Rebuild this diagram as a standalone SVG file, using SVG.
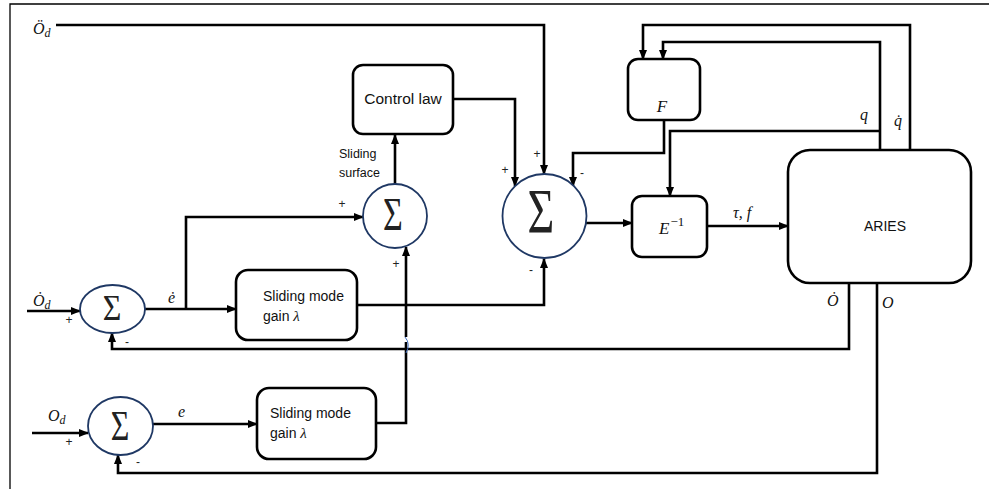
<svg xmlns="http://www.w3.org/2000/svg" width="989" height="489" viewBox="0 0 989 489">
<defs>
<marker id="ah" markerUnits="userSpaceOnUse" markerWidth="10" markerHeight="10" viewBox="0 0 10 10" refX="9" refY="5" orient="auto">
<path d="M0,1 L10,5 L0,9 Z" fill="#000"/>
</marker>
</defs>
<style>
.frame{fill:none;stroke:#000;stroke-width:1.3}
.box{fill:#fff;stroke:#000;stroke-width:2.6}
.sum{fill:#fff;stroke:#1f3864;stroke-width:1.8}
.wire{fill:none;stroke:#000;stroke-width:2.6;stroke-linejoin:miter}
.arr{marker-end:url(#ah)}
.sig{font-family:"Liberation Serif","DejaVu Serif",serif;fill:#222;text-anchor:middle}
.lbl{font-family:"Liberation Sans",Arial,sans-serif;font-size:14px;fill:#111}
.small{font-family:"Liberation Sans",Arial,sans-serif;font-size:12.5px;fill:#111}
.math{font-family:"Liberation Serif","DejaVu Serif",serif;font-style:italic;font-size:16px;fill:#111}
.sign{font-family:"Liberation Sans",Arial,sans-serif;font-size:12px;fill:#222;text-anchor:middle;dominant-baseline:central}
</style>
<rect width="989" height="489" fill="#fff"/>
<path class="frame" d="M10,489 V4 H989"/>

<g id="connectors">
<path class="wire arr" d="M56,25 H544 V174"/>
<path class="wire arr" d="M453,99 H515 V186"/>
<path class="wire arr" d="M664,120 V153 H573 V186"/>
<path class="wire arr" d="M357,305 H544 V259"/>
<path class="wire arr" d="M586,223 H632"/>
<path class="wire arr" d="M707,226 H788"/>
<path class="wire arr" d="M910,150 V25 H643 V59"/>
<path class="wire arr" d="M880,150 V42 H663 V59"/>
<path class="wire arr" d="M880,131 H670 V196"/>
<path class="wire arr" d="M849,283 V349 H112 V333"/>
<path class="wire arr" d="M877,283 V473 H118 V455"/>
<path class="wire arr" d="M27,311 H80"/>
<path class="wire arr" d="M145,309 H236"/>
<path class="wire arr" d="M186,309 V217 H363"/>
<path class="wire arr" d="M395,184 V135"/>
<path class="wire arr" d="M32,433 H88"/>
<path class="wire arr" d="M153,424 H257"/>
<path class="wire" d="M376,423 H406 V342"/>
<path class="wire arr" d="M406,337 V247"/>
<path d="M405,337 Q411,344 406,353" fill="none" stroke="#4472c4" stroke-width="1"/>
</g>

<g id="control-law">
<rect class="box" x="353" y="65" width="100" height="69" rx="10"/>
<text class="lbl" x="403" y="104" text-anchor="middle" style="font-size:15.5px">Control law</text>
</g>

<g id="sum1">
<circle class="sum" cx="395" cy="216" r="32"/>
<text class="sig" font-size="34" transform="translate(393,230) scale(1,1.35)">Σ</text>
</g>

<g id="sum2">
<circle class="sum" cx="544.5" cy="216" r="42"/>
<text class="sig" font-size="46" transform="translate(541,233) scale(1,1.4)">Σ</text>
</g>

<g id="sum3">
<ellipse class="sum" cx="112.5" cy="309" rx="32.5" ry="24"/>
<text class="sig" font-size="32" transform="translate(112,320) scale(1,1.1)">Σ</text>
</g>

<g id="sum4">
<ellipse class="sum" cx="120.5" cy="426" rx="32.5" ry="29"/>
<text class="sig" font-size="32" transform="translate(120,440) scale(1,1.3)">Σ</text>
</g>

<g id="gain1">
<rect class="box" x="236" y="270" width="121" height="70" rx="12"/>
<text class="lbl" x="263" y="301">Sliding mode</text>
<text class="lbl" x="263" y="321">gain <tspan class="math" style="font-size:15px">λ</tspan></text>
</g>

<g id="gain2">
<rect class="box" x="257" y="388" width="119" height="71" rx="12"/>
<text class="lbl" x="270" y="418">Sliding mode</text>
<text class="lbl" x="270" y="438">gain <tspan class="math" style="font-size:15px">λ</tspan></text>
</g>

<g id="F">
<rect class="box" x="628" y="59" width="72" height="61" rx="10"/>
<text class="math" x="662" y="112" text-anchor="middle" style="font-size:17px">F</text>
</g>

<g id="Einv">
<rect class="box" x="632" y="196" width="75" height="61" rx="10"/>
<text class="math" x="659" y="234" style="font-size:17px">E<tspan style="font-style:normal;font-size:13px" dx="1" dy="-8">−1</tspan></text>
</g>

<g id="ARIES">
<rect class="box" x="788" y="150" width="183" height="133" rx="22"/>
<text class="lbl" x="885" y="231" text-anchor="middle">ARIES</text>
</g>

<g id="labels">
<text class="math" x="33" y="34">Ö<tspan style="font-size:12px" dy="3">d</tspan></text>
<text class="math" x="33" y="306">Ȯ<tspan style="font-size:12px" dy="3">d</tspan></text>
<text class="math" x="48" y="421">O<tspan style="font-size:12px" dy="3">d</tspan></text>
<text class="math" x="168" y="303">ė</text>
<text class="math" x="178" y="417">e</text>
<text class="math" x="733" y="218">τ, f</text>
<text class="math" x="860" y="120">q</text>
<text class="math" x="894" y="126">q̇</text>
<text class="math" x="827" y="306">Ȯ</text>
<text class="math" x="882" y="308">O</text>
<text class="small" x="339" y="158">Sliding</text>
<text class="small" x="339" y="177">surface</text>
<text class="sign" x="342" y="204">+</text>
<text class="sign" x="505" y="170">+</text>
<text class="sign" x="537" y="154">+</text>
<text class="sign" x="582" y="173">-</text>
<text class="sign" x="396" y="264">+</text>
<text class="sign" x="531" y="270">-</text>
<text class="sign" x="69" y="320">+</text>
<text class="sign" x="127" y="342">-</text>
<text class="sign" x="69" y="442">+</text>
<text class="sign" x="138" y="462">-</text>
</g>
</svg>
